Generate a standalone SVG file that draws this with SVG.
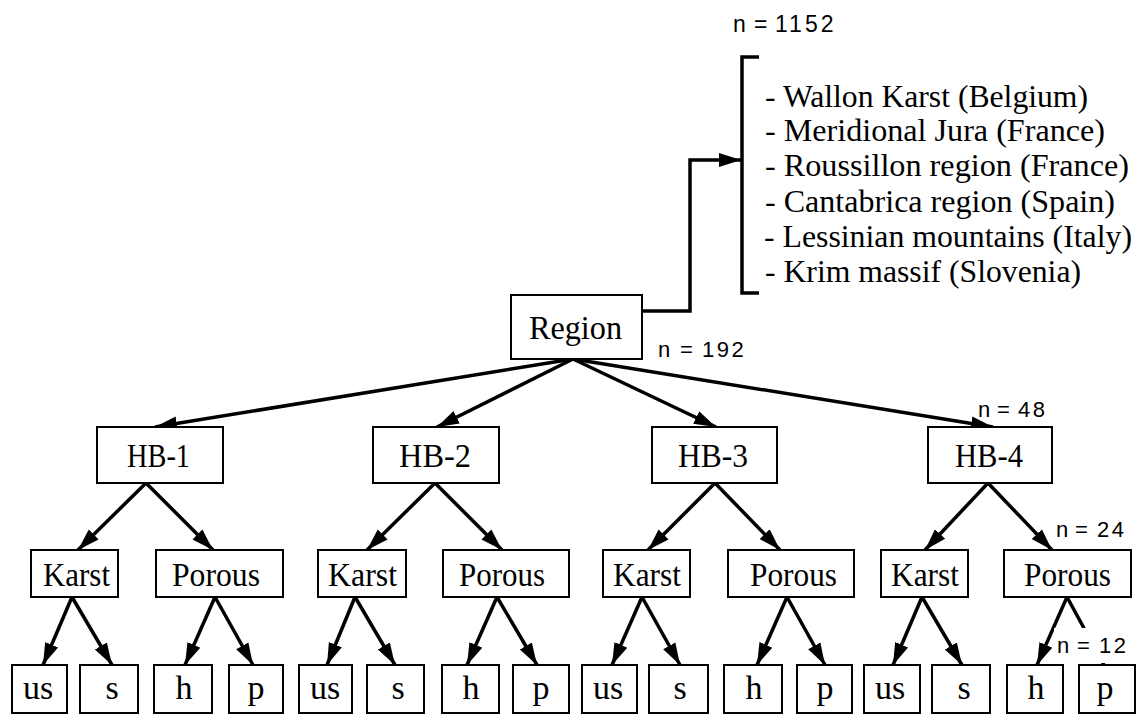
<svg xmlns="http://www.w3.org/2000/svg" width="1139" height="716" viewBox="0 0 1139 716">
<style>
.box{fill:#fff;stroke:#000;stroke-width:2}
.lbl{font-family:"Liberation Serif","Times New Roman",serif;font-size:34px;fill:#000}
.lst{font-family:"Liberation Serif","Times New Roman",serif;font-size:31px;fill:#000}
.mid{text-anchor:middle}
.n{font-family:"Liberation Sans",Arial,sans-serif;font-size:22px;fill:#000}
.dg{letter-spacing:2.5px}
.edge{stroke:#000;stroke-width:3.5;fill:none;marker-end:url(#ah)}
.brk{stroke:#000;stroke-width:3.5;fill:none}
</style>
<defs>
<marker id="ah" markerWidth="24" markerHeight="16" refX="22" refY="8" orient="auto" markerUnits="userSpaceOnUse">
<path d="M0,1 L22,8 L0,15 Z" fill="#000"/>
</marker>
</defs>
<rect width="1139" height="716" fill="#fff"/>

<g id="connectors">
<polyline class="edge" points="642,311 690,311 690,160 741,160"/>
<line class="edge" x1="573" y1="359" x2="155" y2="427"/>
<line class="edge" x1="573" y1="359" x2="437" y2="427"/>
<line class="edge" x1="573" y1="359" x2="716" y2="427"/>
<line class="edge" x1="573" y1="359" x2="993" y2="427"/>

<line class="edge" x1="146" y1="483" x2="78" y2="550"/>
<line class="edge" x1="146" y1="483" x2="213" y2="550"/>
<line class="edge" x1="435" y1="483" x2="367" y2="550"/>
<line class="edge" x1="435" y1="483" x2="502" y2="550"/>
<line class="edge" x1="715" y1="483" x2="648" y2="550"/>
<line class="edge" x1="715" y1="483" x2="780" y2="550"/>
<line class="edge" x1="988" y1="483" x2="925" y2="550"/>
<line class="edge" x1="988" y1="483" x2="1052" y2="550"/>

<line class="edge" x1="72" y1="597" x2="43" y2="665"/>
<line class="edge" x1="72" y1="597" x2="112" y2="665"/>
<line class="edge" x1="215" y1="597" x2="185" y2="665"/>
<line class="edge" x1="215" y1="597" x2="253" y2="665"/>
<line class="edge" x1="355" y1="597" x2="327" y2="665"/>
<line class="edge" x1="355" y1="597" x2="395" y2="665"/>
<line class="edge" x1="497" y1="597" x2="467" y2="665"/>
<line class="edge" x1="497" y1="597" x2="537" y2="665"/>
<line class="edge" x1="642" y1="597" x2="612" y2="665"/>
<line class="edge" x1="642" y1="597" x2="680" y2="665"/>
<line class="edge" x1="787" y1="597" x2="757" y2="665"/>
<line class="edge" x1="787" y1="597" x2="825" y2="665"/>
<line class="edge" x1="922" y1="597" x2="893" y2="665"/>
<line class="edge" x1="922" y1="597" x2="962" y2="665"/>
<line class="edge" x1="1067" y1="597" x2="1037" y2="665"/>
<line class="edge" x1="1067" y1="597" x2="1104" y2="665"/>
</g>

<g id="list">
<path class="brk" d="M759,57 H742 V293 H759"/>
<text class="lst" x="765" y="107" textLength="323" lengthAdjust="spacingAndGlyphs">- Wallon Karst (Belgium)</text>
<text class="lst" x="765" y="141" textLength="340" lengthAdjust="spacingAndGlyphs">- Meridional Jura (France)</text>
<text class="lst" x="765" y="176" textLength="364" lengthAdjust="spacingAndGlyphs">- Roussillon region (France)</text>
<text class="lst" x="765" y="212" textLength="350" lengthAdjust="spacingAndGlyphs">- Cantabrica region (Spain)</text>
<text class="lst" x="764" y="247" textLength="368" lengthAdjust="spacingAndGlyphs">- Lessinian mountains (Italy)</text>
<text class="lst" x="765" y="282" textLength="316" lengthAdjust="spacingAndGlyphs">- Krim massif (Slovenia)</text>
</g>

<g id="region"><rect class="box" x="511" y="295" width="131" height="64"/><text class="lbl" x="529" y="339" textLength="93" lengthAdjust="spacingAndGlyphs">Region</text></g>

<g id="hb1"><rect class="box" x="97" y="427" width="126" height="56"/><text class="lbl" x="127" y="467" textLength="63" lengthAdjust="spacingAndGlyphs">HB-1</text></g>
<g id="hb2"><rect class="box" x="373" y="427" width="126" height="56"/><text class="lbl" x="399" y="467" textLength="72" lengthAdjust="spacingAndGlyphs">HB-2</text></g>
<g id="hb3"><rect class="box" x="652" y="427" width="125" height="56"/><text class="lbl" x="678" y="467" textLength="70" lengthAdjust="spacingAndGlyphs">HB-3</text></g>
<g id="hb4"><rect class="box" x="928" y="427" width="124" height="56"/><text class="lbl" x="955" y="467" textLength="68" lengthAdjust="spacingAndGlyphs">HB-4</text></g>

<g id="karst1"><rect class="box" x="31" y="550" width="87" height="47"/><text class="lbl" x="43" y="586" textLength="67" lengthAdjust="spacingAndGlyphs">Karst</text></g>
<g id="porous1"><rect class="box" x="156" y="550" width="127" height="47"/><text class="lbl" x="172" y="586" textLength="88" lengthAdjust="spacingAndGlyphs">Porous</text></g>
<g id="karst2"><rect class="box" x="318" y="550" width="88" height="47"/><text class="lbl" x="328" y="586" textLength="69" lengthAdjust="spacingAndGlyphs">Karst</text></g>
<g id="porous2"><rect class="box" x="443" y="550" width="126" height="47"/><text class="lbl" x="459" y="586" textLength="86" lengthAdjust="spacingAndGlyphs">Porous</text></g>
<g id="karst3"><rect class="box" x="603" y="550" width="87" height="47"/><text class="lbl" x="613" y="586" textLength="68" lengthAdjust="spacingAndGlyphs">Karst</text></g>
<g id="porous3"><rect class="box" x="728" y="550" width="126" height="47"/><text class="lbl" x="750" y="586" textLength="87" lengthAdjust="spacingAndGlyphs">Porous</text></g>
<g id="karst4"><rect class="box" x="881" y="550" width="87" height="47"/><text class="lbl" x="891" y="586" textLength="68" lengthAdjust="spacingAndGlyphs">Karst</text></g>
<g id="porous4"><rect class="box" x="1004" y="550" width="127" height="47"/><text class="lbl" x="1024" y="586" textLength="87" lengthAdjust="spacingAndGlyphs">Porous</text></g>

<g id="us1"><rect class="box" x="12" y="665" width="55" height="48"/><text class="lbl mid" x="38" y="699">us</text></g>
<g id="s1"><rect class="box" x="80" y="665" width="58" height="48"/><text class="lbl mid" x="112" y="699">s</text></g>
<g id="h1"><rect class="box" x="154" y="665" width="58" height="48"/><text class="lbl mid" x="184" y="699">h</text></g>
<g id="p1"><rect class="box" x="229" y="665" width="54" height="48"/><text class="lbl mid" x="256" y="699">p</text></g>
<g id="us2"><rect class="box" x="299" y="665" width="53" height="48"/><text class="lbl mid" x="325" y="699">us</text></g>
<g id="s2"><rect class="box" x="367" y="665" width="57" height="48"/><text class="lbl mid" x="398" y="699">s</text></g>
<g id="h2"><rect class="box" x="442" y="665" width="57" height="48"/><text class="lbl mid" x="471" y="699">h</text></g>
<g id="p2"><rect class="box" x="513" y="665" width="56" height="48"/><text class="lbl mid" x="541" y="699">p</text></g>
<g id="us3"><rect class="box" x="582" y="665" width="55" height="48"/><text class="lbl mid" x="608" y="699">us</text></g>
<g id="s3"><rect class="box" x="649" y="665" width="59" height="48"/><text class="lbl mid" x="680" y="699">s</text></g>
<g id="h3"><rect class="box" x="724" y="665" width="58" height="48"/><text class="lbl mid" x="754" y="699">h</text></g>
<g id="p3"><rect class="box" x="797" y="665" width="55" height="48"/><text class="lbl mid" x="825" y="699">p</text></g>
<g id="us4"><rect class="box" x="864" y="665" width="56" height="48"/><text class="lbl mid" x="890" y="699">us</text></g>
<g id="s4"><rect class="box" x="932" y="665" width="58" height="48"/><text class="lbl mid" x="964" y="699">s</text></g>
<g id="h4"><rect class="box" x="1007" y="665" width="56" height="48"/><text class="lbl mid" x="1036" y="699">h</text></g>
<g id="p4"><rect class="box" x="1079" y="665" width="56" height="48"/><text class="lbl mid" x="1105" y="699">p</text></g>

<g id="counts">
<text class="n" y="32" style="font-size:23px"><tspan x="733">n</tspan> <tspan x="754">=</tspan> <tspan x="775" style="letter-spacing:3px">1152</tspan></text>
<text class="n" y="357"><tspan x="658">n</tspan> <tspan x="680">=</tspan> <tspan class="dg" x="702">192</tspan></text>
<text class="n" y="417"><tspan x="978">n</tspan> <tspan x="997">=</tspan> <tspan class="dg" x="1018">48</tspan></text>
<text class="n" y="537"><tspan x="1056">n</tspan> <tspan x="1075">=</tspan> <tspan class="dg" x="1097">24</tspan></text>
<rect x="1054" y="628" width="83" height="35" fill="#fff"/>
<text class="n" y="653"><tspan x="1057">n</tspan> <tspan x="1077">=</tspan> <tspan class="dg" x="1099">12</tspan></text>
</g>
</svg>
